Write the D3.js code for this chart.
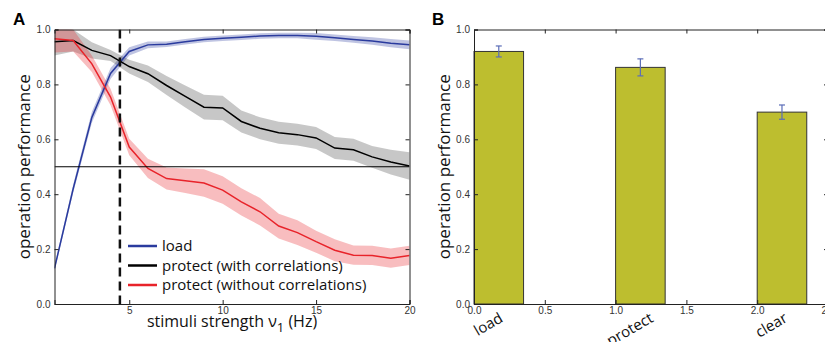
<!DOCTYPE html>
<html>
<head>
<meta charset="utf-8">
<script src="https://cdn.jsdelivr.net/npm/d3@7"></script>
<style>
  body { margin: 0; background: #fff; }
  .tick text { font-family: "Liberation Sans", Arial, sans-serif; font-size: 10px; fill: #333; }
  .lab { font-family: "Open Sans", sans-serif; fill: #111; }
</style>
</head>
<body>
<script>
var width = 825,
    height = 342;

// panel A data: stimuli strength 1..20 Hz
var stim = [1, 2, 3, 4, 5, 6, 7, 8, 9, 10, 11, 12, 13, 14, 15, 16, 17, 18, 19, 20];
var loadMean = [0.13, 0.42, 0.68, 0.84, 0.92, 0.944, 0.946, 0.955, 0.964, 0.968, 0.972, 0.976, 0.978, 0.978, 0.975, 0.97, 0.964, 0.958, 0.95, 0.944];
var loadErr  = [0.01, 0.015, 0.02, 0.02, 0.015, 0.012, 0.01, 0.01, 0.01, 0.01, 0.01, 0.01, 0.01, 0.01, 0.012, 0.012, 0.012, 0.014, 0.015, 0.016];
var corrMean = [0.955, 0.96, 0.924, 0.905, 0.865, 0.839, 0.796, 0.756, 0.717, 0.714, 0.665, 0.64, 0.624, 0.617, 0.605, 0.568, 0.562, 0.536, 0.517, 0.503];
var corrErr  = [0.05, 0.04, 0.03, 0.02, 0.025, 0.03, 0.035, 0.04, 0.045, 0.045, 0.04, 0.04, 0.04, 0.04, 0.04, 0.04, 0.04, 0.04, 0.045, 0.05];
var noCorrMean = [0.966, 0.96, 0.875, 0.754, 0.572, 0.494, 0.457, 0.449, 0.441, 0.415, 0.372, 0.336, 0.284, 0.26, 0.227, 0.196, 0.178, 0.177, 0.167, 0.177];
var noCorrErr  = [0.05, 0.04, 0.03, 0.03, 0.03, 0.035, 0.04, 0.045, 0.05, 0.05, 0.05, 0.05, 0.045, 0.045, 0.04, 0.04, 0.035, 0.035, 0.035, 0.035];
var threshold = 0.5,
    stimMarker = 4.5;

var legendNames = ["load", "protect (with correlations)", "protect (without correlations)"];
var lineColors = ["#2a3b9e", "#000000", "#e8232a"];

// panel B data
var ops = ["load", "protect", "clear"];
var opPos = [0, 1, 2];
var opMean = [0.92, 0.862, 0.699];
var opErr = [0.02, 0.031, 0.026];
var barWidth = 0.35;

var yTicks = [0, 0.2, 0.4, 0.6, 0.8, 1.0];
var xTicksA = [5, 10, 15, 20];
var xTicksB = [0, 0.5, 1, 1.5, 2, 2.5];

var svg = d3.select("body").append("svg")
    .attr("width", width)
    .attr("height", height);

var top_ = 29.5, bottom = 304;

// ---------- panel A ----------
var xA = d3.scaleLinear().domain([1, 20]).range([54.5, 409.5]);
var yA = d3.scaleLinear().domain([0, 1]).range([bottom, top_]);

svg.append("clipPath").attr("id", "clipA")
  .append("rect")
    .attr("x", xA.range()[0]).attr("y", top_)
    .attr("width", xA.range()[1] - xA.range()[0])
    .attr("height", bottom - top_);

var gA = svg.append("g").attr("clip-path", "url(#clipA)");

var series = [
  {mean: loadMean, err: loadErr, color: lineColors[0], op: 0.3},
  {mean: corrMean, err: corrErr, color: "#000", op: 0.22},
  {mean: noCorrMean, err: noCorrErr, color: lineColors[2], op: 0.3}
];

var area = d3.area()
    .x(function(d) { return xA(d.x); })
    .y0(function(d) { return yA(d.m - d.e); })
    .y1(function(d) { return yA(d.m + d.e); });
var line = d3.line()
    .x(function(d) { return xA(d.x); })
    .y(function(d) { return yA(d.m); });

series.forEach(function(s) {
  var pts = stim.map(function(x, i) { return {x: x, m: s.mean[i], e: s.err[i]}; });
  gA.append("path").datum(pts).attr("d", area)
    .style("fill", s.color).style("fill-opacity", s.op).style("stroke", "none");
});
series.forEach(function(s) {
  var pts = stim.map(function(x, i) { return {x: x, m: s.mean[i], e: s.err[i]}; });
  gA.append("path").datum(pts).attr("d", line)
    .style("fill", "none").style("stroke", s.color).style("stroke-width", 1.5);
});

gA.append("line")
    .attr("x1", xA.range()[0]).attr("x2", xA.range()[1])
    .attr("y1", yA(threshold)).attr("y2", yA(threshold))
    .style("stroke", "#000").style("stroke-width", 1.2);

gA.append("line")
    .attr("x1", xA(stimMarker)).attr("x2", xA(stimMarker))
    .attr("y1", top_).attr("y2", bottom)
    .style("stroke", "#111").style("stroke-width", 2.5)
    .style("stroke-dasharray", "9,5");

function frame(x, y, xt, xfmt) {
  var l = x.range()[0], r = x.range()[1];
  svg.append("g").attr("transform", "translate(0," + bottom + ")")
    .call(d3.axisBottom(x).tickValues(xt).tickSize(-4).tickPadding(3).tickFormat(xfmt));
  svg.append("g").attr("transform", "translate(0," + top_ + ")")
    .call(d3.axisTop(x).tickValues(xt).tickSize(-4).tickFormat(""));
  svg.append("g").attr("transform", "translate(" + l + ",0)")
    .call(d3.axisLeft(y).tickValues(yTicks).tickSize(-4).tickPadding(4).tickFormat(d3.format(".1f")));
  svg.append("g").attr("transform", "translate(" + r + ",0)")
    .call(d3.axisRight(y).tickValues(yTicks).tickSize(-4).tickFormat(""));
  svg.selectAll(".domain").style("stroke", "#222");
  svg.selectAll(".tick line").style("stroke", "#222");
}
frame(xA, yA, xTicksA, d3.format("d"));

// legend
var leg = svg.append("g");
legendNames.forEach(function(n, i) {
  var yy = 246 + i * 19.5;
  leg.append("line").attr("x1", 128).attr("x2", 157).attr("y1", yy).attr("y2", yy)
    .style("stroke", lineColors[i]).style("stroke-width", 2.5);
  leg.append("text").attr("class", "lab").attr("x", 162).attr("y", yy + 5)
    .style("font-size", "15px").text(n);
});

// axis labels A
var xl = svg.append("text").attr("class", "lab")
    .attr("x", (xA.range()[0] + xA.range()[1]) / 2).attr("y", 327)
    .attr("text-anchor", "middle").style("font-size", "16px");
xl.append("tspan").text("stimuli strength \u03bd");
xl.append("tspan").attr("dy", 5).style("font-size", "13px").text("1");
xl.append("tspan").attr("dy", -5).text(" (Hz)");

svg.append("text").attr("class", "lab")
    .attr("transform", "translate(30," + (top_ + bottom) / 2 + ") rotate(-90)")
    .attr("text-anchor", "middle").style("font-size", "17px")
    .text("operation performance");

svg.append("text").attr("x", 13).attr("y", 25)
    .style("font-family", "Liberation Sans, Arial, sans-serif")
    .style("font-weight", "bold").style("font-size", "17px").text("A");

// ---------- panel B ----------
var xB = d3.scaleLinear().domain([0, 2.5]).range([474, 828]);
var yB = yA.copy();

svg.selectAll(".bar").data(opPos).enter().append("rect")
    .attr("class", "bar")
    .attr("x", function(d) { return xB(d); })
    .attr("y", function(d, i) { return yB(opMean[i]); })
    .attr("width", xB(barWidth) - xB(0))
    .attr("height", function(d, i) { return bottom - yB(opMean[i]); })
    .style("fill", "#bdbe2f").style("stroke", "#333").style("stroke-width", 1);

var eb = svg.selectAll(".eb").data(opPos).enter().append("g").attr("class", "eb")
    .style("stroke", "#5b6db8").style("stroke-width", 1.2);
eb.append("line")
    .attr("x1", function(d) { return xB(d + barWidth / 2); })
    .attr("x2", function(d) { return xB(d + barWidth / 2); })
    .attr("y1", function(d, i) { return yB(opMean[i] - opErr[i]); })
    .attr("y2", function(d, i) { return yB(opMean[i] + opErr[i]); });
[-1, 1].forEach(function(sgn) {
  eb.append("line")
    .attr("x1", function(d) { return xB(d + barWidth / 2) - 3; })
    .attr("x2", function(d) { return xB(d + barWidth / 2) + 3; })
    .attr("y1", function(d, i) { return yB(opMean[i] + sgn * opErr[i]); })
    .attr("y2", function(d, i) { return yB(opMean[i] + sgn * opErr[i]); });
});

frame(xB, yB, xTicksB, d3.format(".1f"));

// rotated category labels
ops.forEach(function(name, i) {
  var t = svg.append("text").attr("class", "lab").style("font-size", "15px")
      .attr("text-anchor", "middle").attr("dy", "0.35em").text(name);
  var w = t.node().getComputedTextLength();
  var bh = w * 0.5 + 15 * 0.866;
  var cx = xB(opPos[i] + 0.1), cy = 310 + bh / 2;
  t.attr("transform", "translate(" + cx + "," + cy + ") rotate(-30)");
});

svg.append("text").attr("class", "lab")
    .attr("transform", "translate(450," + (top_ + bottom) / 2 + ") rotate(-90)")
    .attr("text-anchor", "middle").style("font-size", "17px")
    .text("operation performance");

svg.append("text").attr("x", 432).attr("y", 25)
    .style("font-family", "Liberation Sans, Arial, sans-serif")
    .style("font-weight", "bold").style("font-size", "17px").text("B");
</script>
</body>
</html>
